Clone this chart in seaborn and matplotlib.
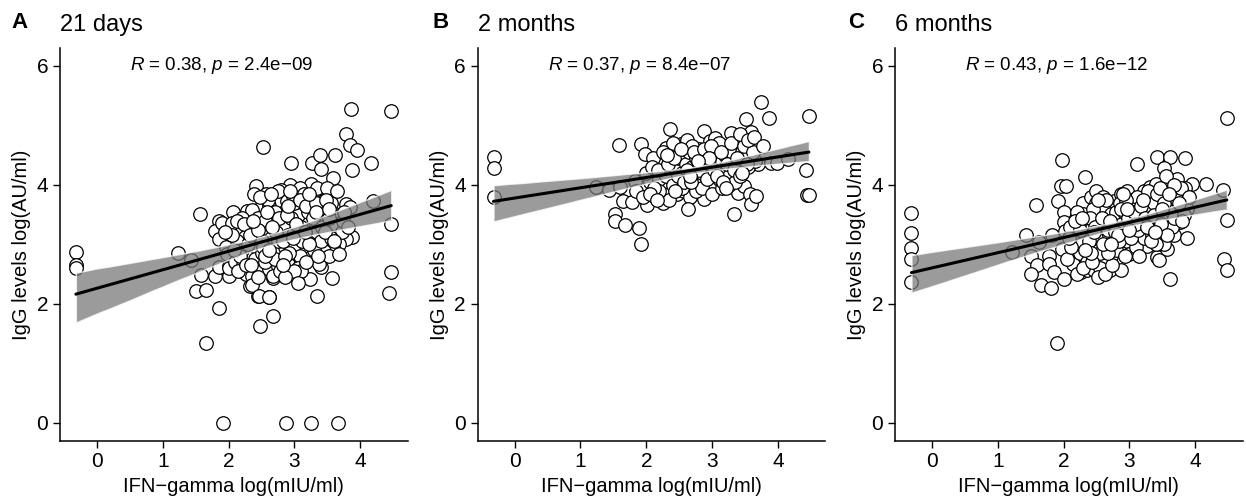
import numpy as np
import pandas as pd
import matplotlib
matplotlib.use("Agg")
import matplotlib.pyplot as plt
import seaborn as sns

# Panel A - 21 days
a_x = [-0.32, -0.32, -0.32, 1.92, 2.87, 3.25, 3.66, 1.66, 1.86, 2.47, 2.67, 1.51, 1.65, 1.58, 1.79,
       1.43, 1.23, 1.57, 2.52, 2.42, 2.95, 3.26, 3.39, 3.62, 3.40, 3.59, 3.78, 3.86, 3.84, 3.95,
       3.88, 4.16, 4.19, 4.47, 4.47, 4.47, 4.43, 3.34, 3.24, 3.57, 3.40, 2.45, 2.62, 2.33, 2.67,
       2.01, 1.86, 2.01, 2.57, 2.94, 2.80, 2.06, 2.28, 2.50, 2.62, 2.88, 2.87, 1.85, 1.92, 1.80,
       2.01, 2.16, 2.31, 2.25, 2.40, 2.53, 2.68, 2.78, 2.95, 2.97, 1.86, 1.96, 1.98, 2.16, 2.28,
       2.41, 2.58, 2.70, 2.86, 2.95, 2.00, 2.26, 2.35, 2.46, 2.61, 2.75, 2.90, 2.35, 2.46, 2.61,
       2.68, 3.25, 3.08, 3.23, 3.40, 2.98, 3.13, 3.43, 3.30, 3.78, 3.84, 3.58, 3.38, 3.15, 2.98,
       3.48, 3.80, 3.88, 3.78, 3.68, 3.28, 3.13, 3.45, 3.28, 3.58, 3.45, 3.05, 2.98, 3.25, 3.38,
       3.53, 3.68, 3.08, 3.05, 3.10, 1.90, 2.05, 2.13, 2.20, 2.30, 2.35, 2.45, 2.55, 2.60, 2.65,
       2.75, 2.80, 2.85, 2.90, 2.92, 3.00, 3.05, 3.10, 3.15, 3.20, 3.35, 3.45, 3.50, 3.55, 3.62,
       3.70, 3.72, 2.20, 2.40, 2.50, 2.55, 2.70, 2.78, 2.85, 3.00, 3.18, 3.30, 3.40, 2.10, 2.22,
       2.60, 2.70, 2.75, 3.00, 3.35, 3.50, 2.50, 2.45, 2.85, 3.05, 2.95,
       2.05, 2.12, 2.18, 2.24, 2.32, 2.38, 2.44, 2.48, 2.52, 2.58, 2.64, 2.72, 2.76, 2.82, 2.88,
       2.93, 3.02, 3.08, 3.12, 3.18, 3.22, 3.28, 3.32, 3.36, 3.42, 3.48, 3.52, 3.56, 3.64, 3.74,
       2.15, 2.27, 2.37, 2.56, 2.66, 2.83, 2.98, 3.16, 3.33, 3.47, 3.60, 3.76, 1.95, 2.08, 2.34,
       2.62, 2.90, 3.22, 3.52, 3.82]
a_y = [2.88, 2.65, 2.60, 0.00, 0.00, 0.00, 0.00, 1.34, 1.93, 1.62, 1.80, 2.21, 2.23, 2.49, 2.47,
       2.74, 2.86, 3.51, 4.64, 3.98, 4.36, 4.36, 4.50, 4.50, 4.26, 4.11, 4.86, 5.28, 4.67, 4.58,
       4.25, 4.36, 3.73, 5.24, 3.34, 2.53, 2.18, 2.13, 2.41, 2.44, 2.62, 2.13, 2.12, 2.30, 2.44,
       2.46, 2.62, 2.64, 3.85, 4.00, 3.91, 3.54, 3.56, 3.66, 3.65, 3.73, 3.58, 3.39, 3.31, 3.23,
       3.28, 3.23, 3.31, 3.12, 3.17, 3.28, 3.37, 3.45, 3.59, 3.37, 3.09, 2.95, 2.84, 2.95, 2.84,
       2.95, 3.00, 2.89, 2.95, 2.75, 2.61, 2.50, 2.47, 2.59, 2.59, 2.64, 2.67, 2.31, 2.14, 2.11,
       2.47, 4.01, 3.95, 3.81, 3.87, 3.81, 3.65, 3.73, 3.65, 3.68, 3.62, 3.53, 3.48, 3.39, 3.34,
       3.37, 3.28, 3.12, 3.09, 3.01, 3.23, 3.17, 3.06, 2.98, 2.95, 2.89, 3.06, 2.92, 2.78, 2.67,
       2.81, 2.84, 2.81, 2.61, 2.55, 3.36, 3.36, 3.05, 2.90, 3.00, 3.57, 3.45, 3.40, 3.20, 3.10,
       3.05, 3.25, 3.35, 3.15, 2.85, 3.20, 3.50, 3.30, 3.85, 3.55, 3.20, 3.60, 3.15, 3.70, 3.35,
       3.50, 3.20, 3.45, 2.75, 2.85, 2.70, 2.75, 2.55, 2.80, 2.55, 2.70, 2.90, 3.05, 2.70, 2.65,
       3.75, 3.55, 3.90, 3.70, 3.95, 3.95, 3.05, 2.45, 2.45, 2.35, 3.45,
       3.15, 3.40, 2.80, 3.35, 3.15, 3.85, 3.25, 3.80, 2.95, 3.55, 3.85, 3.20, 3.45, 3.05, 3.50,
       3.90, 3.35, 3.75, 3.05, 3.65, 3.00, 3.45, 3.70, 2.80, 3.30, 3.75, 3.45, 3.10, 3.90, 3.40,
       2.55, 2.65, 3.40, 2.80, 3.30, 2.65, 3.10, 3.20, 3.55, 3.20, 3.05, 3.55, 3.20, 2.90, 2.65,
       2.90, 3.65, 3.85, 3.60, 3.30]

# Panel B - 2 months
b_x = [-0.32, -0.32, -0.32, 1.23, 1.43, 1.59, 1.53, 1.53, 1.68, 1.60, 1.64, 1.79, 1.89, 1.92, 1.92,
       1.98, 1.98, 2.01, 1.83, 2.13, 2.22, 2.26, 2.35, 2.15, 2.28, 2.30, 2.36, 2.45, 2.47, 2.52,
       2.62, 2.57, 2.67, 2.41, 2.52, 2.63, 2.57, 2.72, 2.47, 2.58, 2.67, 2.63, 2.87, 2.90, 2.92,
       2.90, 2.88, 2.97, 3.00, 3.02, 3.12, 3.14, 3.05, 3.22, 3.24, 3.32, 3.37, 3.29, 3.37, 3.44,
       3.52, 3.59, 3.57, 3.47, 3.34, 3.39, 3.49, 3.58, 3.59, 3.67, 3.69, 3.74, 3.87, 3.89, 3.99,
       4.16, 4.42, 4.47, 4.44, 4.47, 2.05, 2.10, 2.20, 2.30, 2.38, 2.40, 2.45, 2.50, 2.55, 2.60,
       2.65, 2.70, 2.75, 2.78, 2.80, 2.82, 2.85, 2.95, 2.98, 3.05, 3.08, 3.10, 3.15, 3.18, 3.20,
       3.25, 3.30, 3.40, 3.45, 3.50, 3.55, 3.60, 3.65, 2.35, 2.55, 2.75, 2.85, 3.00, 3.15, 3.25,
       2.20, 2.70, 3.10, 2.40, 2.00, 1.85, 3.35,
       2.08, 2.18, 2.25, 2.33, 2.42, 2.48, 2.53, 2.58, 2.62, 2.68, 2.73, 2.80, 2.87, 2.93, 2.99,
       3.03, 3.07, 3.13, 3.17, 3.23, 3.28, 3.33, 3.38, 3.43, 3.48, 3.53, 3.62, 2.12, 2.44, 2.66,
       2.96, 3.21, 3.46, 2.32, 2.78,
       1.95, 2.06, 2.17, 3.42, 3.55, 3.63, 3.78]
b_y = [4.47, 4.28, 3.79, 3.97, 3.91, 4.67, 3.51, 3.40, 3.33, 3.96, 3.73, 3.72, 3.28, 3.01, 4.69,
       4.52, 3.96, 3.67, 4.07, 3.79, 3.96, 3.70, 3.84, 4.40, 4.26, 4.62, 4.94, 4.54, 4.40, 4.68,
       4.75, 4.51, 4.40, 4.18, 4.07, 4.02, 4.29, 4.18, 3.84, 3.90, 3.79, 3.59, 3.76, 4.07, 4.29,
       4.50, 4.91, 4.74, 4.40, 4.01, 4.18, 4.62, 4.79, 4.62, 4.29, 4.41, 4.21, 4.87, 4.67, 4.78,
       5.10, 4.89, 4.57, 4.40, 3.51, 3.87, 3.98, 3.84, 3.68, 3.82, 4.35, 5.39, 5.13, 4.36, 4.36,
       4.43, 4.25, 5.15, 3.83, 3.83, 4.05, 4.45, 4.10, 4.15, 4.30, 4.00, 4.25, 4.45, 4.20, 4.35,
       4.55, 4.30, 4.45, 4.10, 4.60, 4.35, 4.20, 4.55, 4.25, 4.35, 4.50, 4.10, 4.40, 4.25, 4.50,
       4.15, 4.55, 4.35, 4.55, 4.45, 4.30, 4.70, 4.40, 3.75, 3.95, 3.90, 3.95, 3.85, 3.95, 4.00,
       3.90, 4.65, 4.70, 4.70, 4.20, 3.90, 4.05,
       4.30, 4.25, 4.55, 4.35, 4.45, 4.15, 4.60, 4.05, 4.25, 4.05, 4.55, 4.25, 4.60, 4.10, 4.65,
       4.25, 4.15, 4.55, 4.05, 4.35, 4.70, 4.25, 4.45, 4.15, 4.65, 4.35, 4.55, 3.95, 3.90, 4.15,
       4.45, 3.95, 4.20, 4.50, 4.40,
       3.80, 3.85, 3.75, 4.85, 4.75, 4.80, 4.65]

# Panel C - 6 months
c_x = [-0.31, -0.31, -0.31, -0.31, -0.31, 1.22, 1.43, 1.58, 1.50, 1.60, 1.50, 1.66, 1.81, 1.62, 1.78,
       1.78, 1.85, 1.90, 1.97, 1.96, 2.03, 1.91, 2.00, 2.00, 2.02, 1.83, 1.97, 2.01, 2.15, 2.27,
       2.33, 2.30, 2.42, 2.50, 2.30, 2.35, 2.47, 2.50, 2.60, 2.65, 2.20, 2.35, 2.45, 2.37, 2.35,
       2.47, 2.62, 2.70, 2.72, 2.62, 2.57, 2.72, 2.77, 2.87, 2.97, 3.02, 2.82, 2.87, 2.97, 3.00,
       2.87, 3.12, 3.05, 3.15, 3.16, 3.22, 3.27, 3.32, 3.40, 3.35, 3.40, 3.47, 3.26, 3.42, 3.45,
       3.42, 3.62, 3.53, 3.85, 3.72, 3.60, 3.70, 3.80, 3.77, 3.47, 3.62, 3.60, 3.68, 3.57, 3.62,
       3.87, 3.95, 4.17, 3.85, 4.42, 4.48, 4.48, 4.44, 4.48, 2.10, 2.15, 2.25, 2.28, 2.40, 2.45,
       2.55, 2.55, 2.60, 2.65, 2.68, 2.75, 2.80, 2.80, 2.85, 2.90, 2.92, 2.95, 3.00, 3.05, 3.08,
       3.10, 3.12, 3.18, 3.20, 3.22, 3.25, 3.30, 3.30, 3.35, 3.38, 3.45, 3.45, 3.50, 3.52, 3.55,
       3.58, 3.65, 3.65, 3.70, 3.75, 3.82, 3.88, 3.55, 3.40, 2.50, 2.40, 2.65, 2.95, 3.15, 2.35,
       2.55, 2.20,
       2.05, 2.12, 2.20, 2.25, 2.30, 2.38, 2.43, 2.48, 2.52, 2.58, 2.63, 2.70, 2.74, 2.78, 2.84,
       2.88, 2.93, 2.98, 3.03, 3.07, 3.13, 3.17, 3.24, 3.28, 3.33, 3.37, 3.42, 3.48, 3.53, 3.57,
       3.63, 3.67, 3.73, 3.78, 3.83, 3.90, 2.18, 2.28, 2.42, 2.53, 2.67, 2.82, 2.96, 3.10, 3.26,
       3.39, 3.50, 3.68, 3.80, 2.08, 2.33, 2.60, 2.90, 3.20, 3.46, 3.75, 2.46, 2.72, 3.00, 3.60]
c_y = [3.53, 3.19, 2.94, 2.76, 2.37, 2.87, 3.16, 3.67, 2.80, 2.65, 2.51, 2.31, 2.27, 3.04, 2.80,
       2.67, 2.53, 1.34, 4.41, 3.98, 3.98, 3.73, 3.54, 3.37, 3.23, 3.15, 2.92, 2.42, 2.67, 2.54,
       4.13, 3.70, 3.79, 3.90, 3.51, 3.37, 3.51, 3.70, 3.59, 3.43, 3.18, 3.18, 2.98, 2.79, 2.57,
       2.57, 2.98, 2.57, 2.80, 2.76, 3.15, 3.51, 3.73, 3.84, 3.90, 3.74, 3.40, 3.18, 3.06, 2.84,
       2.57, 4.35, 3.51, 3.37, 3.06, 3.90, 3.73, 3.96, 4.01, 3.57, 3.40, 3.18, 2.98, 2.79, 2.73,
       4.47, 4.47, 4.29, 4.45, 4.10, 3.99, 3.82, 3.68, 3.37, 3.68, 3.51, 3.23, 3.15, 2.92, 2.42,
       3.11, 4.02, 4.02, 3.95, 3.91, 5.13, 3.41, 2.76, 2.57, 3.30, 3.05, 2.85, 3.00, 3.25, 3.60,
       3.35, 2.85, 3.80, 3.10, 3.25, 3.00, 3.55, 2.90, 3.70, 3.30, 3.55, 3.15, 3.40, 3.20, 3.65,
       2.95, 3.80, 3.50, 3.25, 3.10, 3.60, 3.35, 3.80, 3.15, 3.70, 3.30, 3.50, 3.85, 3.00, 3.40,
       3.65, 3.55, 3.30, 3.95, 3.50, 3.85, 3.60, 4.15, 3.00, 3.10, 3.45, 3.75, 3.75, 2.80, 2.70,
       2.60, 3.55,
       2.75, 2.95, 2.50, 3.25, 2.60, 3.05, 2.70, 3.30, 2.45, 3.45, 2.50, 3.40, 2.65, 3.20, 3.05,
       3.60, 2.80, 3.45, 3.10, 3.55, 3.25, 3.65, 3.45, 3.90, 3.05, 3.50, 3.85, 3.35, 3.70, 3.15,
       3.90, 3.45, 3.75, 3.95, 3.50, 3.80, 3.40, 3.45, 2.85, 3.75, 2.85, 3.15, 3.60, 3.35, 3.30,
       3.20, 3.60, 4.00, 3.40, 3.10, 2.90, 3.00, 3.85, 3.75, 3.95, 3.70, 3.20, 3.00, 3.25, 3.85]

titles = ["21 days", "2 months", "6 months"]
letters = ["A", "B", "C"]
stats = [("0.38", "2.4e\u221209"), ("0.37", "8.4e\u221207"), ("0.43", "1.6e\u221212")]

sns.set_theme(style="ticks")
plt.rcParams['font.family'] = ['Liberation Sans', 'DejaVu Sans']
plt.rcParams['mathtext.fontset'] = 'custom'
plt.rcParams['mathtext.rm'] = 'Liberation Sans'
plt.rcParams['mathtext.it'] = 'Liberation Sans:italic'

fig = plt.figure(figsize=(12.46, 4.97), dpi=100)
lefts = [0.0482, 0.3834, 0.7183]
letter_x = [0.009, 0.347, 0.681]
data = [(a_x, a_y), (b_x, b_y), (c_x, c_y)]

for i, (xs, ys) in enumerate(data):
    ax = fig.add_axes([lefts[i], 0.1133, 0.279, 0.79])
    df = pd.DataFrame({'x': xs, 'y': ys})
    sns.scatterplot(data=df, x='x', y='y', ax=ax, s=95, color='white',
                    edgecolor='black', linewidth=0.9, zorder=2)
    sns.regplot(data=df, x='x', y='y', ax=ax, scatter=False, ci=95, seed=1, n_boot=2000,
                color='black', line_kws={'linewidth': 2.2, 'zorder': 4})
    # grey confidence band like geom_smooth
    band = ax.collections[-1]
    band.set_facecolor('#7a7a7a')
    band.set_alpha(0.75)
    band.set_zorder(3)

    ax.set_xlim(-0.56, 4.72)
    ax.set_ylim(-0.3, 6.3)
    ax.set_xticks([0, 1, 2, 3, 4])
    ax.set_yticks([0, 2, 4, 6])
    ax.set_xlabel("IFN\u2212gamma log(mIU/ml)", fontsize=14.5, color='black')
    ax.set_ylabel("IgG levels log(AU/ml)", fontsize=14.5, color='black')
    ax.tick_params(axis='both', labelsize=15, colors='black', length=5, width=1, direction='out')
    for sp in ['top', 'right']:
        ax.spines[sp].set_visible(False)
    for sp in ['left', 'bottom']:
        ax.spines[sp].set_color('black')
        ax.spines[sp].set_linewidth(1.1)

    r, p = stats[i]
    ax.text(0.5, 6.0, r"$\it{R}$ = " + r + r", $\it{p}$ = " + p,
            fontsize=13.5, ha='left', va='center', color='black')
    ax.set_title(titles[i], loc='left', fontsize=17, color='black', pad=12)
    fig.text(letter_x[i], 0.955, letters[i], fontsize=16, fontweight='bold',
             ha='left', va='center', color='black')

fig.savefig("out.png", dpi=100)
